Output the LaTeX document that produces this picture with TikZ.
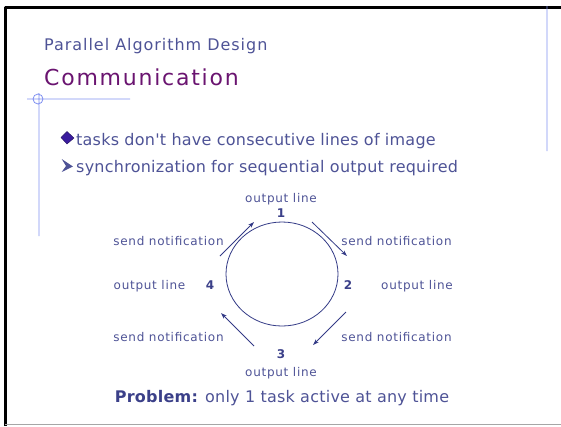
\documentclass[tikz,border=0pt]{standalone}
\usepackage{fontspec}
\setmainfont{DejaVu Sans}
\newfontfamily\labelfont{DejaVu Sans}[LetterSpace=6]
\newfontfamily\bulletfont{DejaVu Sans}[LetterSpace=1.5]
\newfontfamily\headfont{DejaVu Sans}[LetterSpace=6]
\usetikzlibrary{arrows.meta}
\definecolor{slidetext}{HTML}{4E5396}
\definecolor{slidenum}{HTML}{3B4089}
\definecolor{ringcol}{HTML}{333A86}
\definecolor{titlecol}{HTML}{6A1470}
\definecolor{guidecol}{HTML}{7F90F0}
\definecolor{bulletcol}{HTML}{3A1C9E}
\tikzset{
  lbl/.style={font=\labelfont\fontsize{12}{14}\selectfont,text=slidetext,anchor=base,inner sep=0pt},
  num/.style={font=\labelfont\bfseries\fontsize{12}{14}\selectfont,text=slidenum,anchor=base,inner sep=0pt},
  item/.style={font=\bulletfont\fontsize{16}{19}\selectfont,text=slidetext,anchor=base west,inner sep=0pt},
  notify/.style={->,ringcol,line width=0.8pt}
}
\begin{document}
\begin{tikzpicture}[x=1pt,y=-1pt,line join=round,>={Stealth[length=6pt,width=4pt]}]
    \useasboundingbox (0,0) rectangle (561,426);
    % slide frame and guides
    \draw[line width=3pt] (5,426) -- (5,7.3) -- (561,7.3);
    \draw[gray!70,line width=1.2pt] (5,424.4) -- (561,424.4);
    \draw[guidecol,line width=0.8pt]
    (547,6) -- (547,151)
    (27,99) -- (130,99)
    (39,93) -- (39,236)
    (38,99) circle(5pt)
    ;
    % heading
    \node[anchor=base west,inner sep=0pt,text=slidetext,font=\headfont\fontsize{16}{19}\selectfont] (sub) at (44,50) {Parallel Algorithm Design};
    \node[anchor=base west,inner sep=0pt,text=titlecol,font=\headfont\addfontfeatures{LetterSpace=8}\fontsize{22}{26}\selectfont] (head) at (44,85) {Communication};
    % bullets
    \draw[fill=bulletcol,draw=bulletcol!60!black] (61,137.5) -- (67,131.5) -- (74,138) -- (67,144) -- cycle;
    \draw[fill=slidetext,draw=none] (61.7,159) -- (73,166.5) -- (61.7,172) -- (66,166) -- cycle;
    \node[item] (item1) at (76,145) {tasks don't have consecutive lines of image};
    \node[item] (item2) at (76,172) {synchronization for sequential output required};
    % ring of tasks
    \draw[ringcol,line width=0.8pt] (282,274) ellipse (56pt and 52pt);
    \node[lbl] (out1) at (281,202) {output line};
    \node[num] (t1) at (281,217) {1};
    \node[num] (t2) at (348,289) {2};
    \node[num] (t3) at (281,358) {3};
    \node[num] (t4) at (210,289) {4};
    \node[lbl] (out2) at (417,289) {output line};
    \node[lbl] (out3) at (281,376) {output line};
    \node[lbl] (out4) at (149.5,289) {output line};
    \node[lbl] (send41) at (168.5,245) {send notification};
    \node[lbl] (send12) at (396.5,245) {send notification};
    \node[lbl] (send23) at (396.5,341) {send notification};
    \node[lbl] (send34) at (168.5,341) {send notification};
    \coordinate (a41s) at (220,256); \coordinate (a41e) at (254,222);
    \coordinate (a12s) at (312,222); \coordinate (a12e) at (347,256);
    \coordinate (a23s) at (346,312); \coordinate (a23e) at (313,345);
    \coordinate (a34s) at (254,346); \coordinate (a34e) at (221,313);
    \draw[notify] (a41s) -- (a41e);
    \draw[notify] (a12s) -- (a12e);
    \draw[notify] (a23s) -- (a23e);
    \draw[notify] (a34s) -- (a34e);
    \node[anchor=base,inner sep=0pt,text=slidetext,font=\bulletfont\fontsize{16}{19}\selectfont] (problem) at (282,402.5) {{\bfseries\color{slidenum}Problem:} only 1 task active at any time};
\end{tikzpicture}
\end{document}
